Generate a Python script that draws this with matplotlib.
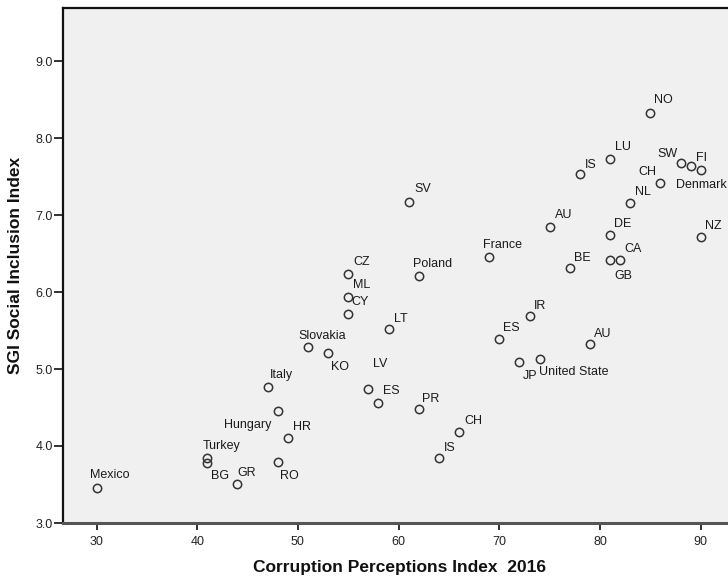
import matplotlib
matplotlib.use("Agg")
import matplotlib.pyplot as plt

plt.rcParams['font.family'] = ['Liberation Sans', 'DejaVu Sans']

# ---- data ----
countries = ["Mexico", "Turkey", "BG", "GR", "RO", "HR", "Hungary", "Italy",
             "Slovakia", "KO", "CZ", "ML", "CY", "LT", "LV", "ES", "PR", "CH",
             "IS", "SV", "Poland", "France", "ES", "IR", "JP", "United State",
             "AU", "AU", "BE", "IS", "LU", "DE", "GB", "CA", "NL", "NO", "CH",
             "SW", "Denmark", "FI", "NZ"]
cpi_2016 = [30, 41, 41, 44, 48, 49, 48, 47,
            51, 53, 55, 55, 55, 59, 57, 58, 62, 66,
            64, 61, 62, 69, 70, 73, 72, 74,
            79, 75, 77, 78, 81, 81, 81, 82, 83, 85, 86,
            88, 89, 90, 90]
sgi_social = [3.46, 3.85, 3.78, 3.51, 3.79, 4.10, 4.46, 4.77,
              5.28, 5.21, 6.24, 5.93, 5.72, 5.52, 4.74, 4.56, 4.48, 4.18,
              3.84, 7.17, 6.21, 6.45, 5.39, 5.69, 5.09, 5.13,
              5.32, 6.84, 6.31, 7.53, 7.73, 6.74, 6.42, 6.42, 7.16, 8.33, 7.42,
              7.67, 7.64, 7.58, 6.71]
x_ticks = [30, 40, 50, 60, 70, 80, 90]
y_ticks = [3.0, 4.0, 5.0, 6.0, 7.0, 8.0, 9.0]

# label placement (pixel offsets from the marker: right, down) and alignment
label_offsets = {
    0: (13, -14), 1: (14, -13), 2: (13, 12), 3: (9, -12), 4: (12, 12),
    5: (14, -13), 6: (-6, 13), 7: (14, -13), 8: (14, -13), 9: (12, 13),
    10: (13, -13), 11: (13, -14), 12: (12, -13), 13: (12, -11), 14: (12, -27),
    15: (13, -13), 16: (12, -12), 17: (14, -13), 18: (11, -12), 19: (14, -14),
    20: (14, -13), 21: (13, -14), 22: (12, -12), 23: (11, -11), 24: (11, 12),
    25: (-1, 12), 26: (13, -12), 27: (14, -14), 28: (13, -12), 29: (11, -11),
    30: (13, -13), 31: (13, -13), 32: (13, 15), 33: (13, -12), 34: (13, -12),
    35: (13, -14), 36: (-13, -12), 37: (-13, -11), 38: (-15, 18), 39: (1, -14),
    40: (13, -13),
}
label_ha = {6: 'right', 25: 'left', 38: 'left'}

# ---- figure ----
W, H = 728, 580
fig = plt.figure(figsize=(W / 100, H / 100), dpi=100)
fig.patch.set_facecolor('white')

ax_left, ax_right, ax_top, ax_bottom = 63, 735, 8, 523
ax = fig.add_axes([ax_left / W, 1 - ax_bottom / H,
                   (ax_right - ax_left) / W, (ax_bottom - ax_top) / H])
ax.set_facecolor('#f0f0f0')

px_per_x = 10.07
x0_px = 96.5
ax.set_xlim(30 - (x0_px - ax_left) / px_per_x, 30 + (ax_right - x0_px) / px_per_x)
ax.set_ylim(3.0, 3.0 + (ax_bottom - ax_top) / 77.0)

ax.plot(cpi_2016, sgi_social, linestyle='none', marker='o', markersize=6.0,
        markerfacecolor='none', markeredgecolor='#333333', markeredgewidth=1.1,
        clip_on=False, zorder=3)

for i, (name, xv, yv) in enumerate(zip(countries, cpi_2016, sgi_social)):
    dx, dy = label_offsets[i]
    ha = label_ha.get(i, 'center')
    ax.annotate(name, (xv, yv), xytext=(dx, -dy - 4.5), textcoords='offset pixels',
                ha=ha, va='baseline', fontsize=9, color='#1a1a1a', zorder=4)

ax.set_xticks(x_ticks)
ax.set_xticklabels([str(t) for t in x_ticks])
ax.set_yticks(y_ticks)
ax.set_yticklabels([f"{t:.1f}" for t in y_ticks])

ax.tick_params(axis='x', direction='out', length=5, width=1.3, pad=4.5,
               labelsize=9, colors='#222222')
ax.tick_params(axis='y', direction='out', length=6.5, width=1.3, pad=0.8,
               labelsize=9, colors='#222222')

for side in ['top', 'left']:
    ax.spines[side].set_color('#111111')
    ax.spines[side].set_linewidth(1.6)
ax.spines['bottom'].set_color('#555555')
ax.spines['bottom'].set_linewidth(2.2)
ax.spines['right'].set_visible(False)

ax.set_xlabel("Corruption Perceptions Index  2016", fontsize=12.5,
              fontweight='bold', color='#111111')
ax.xaxis.set_label_coords((399.5 - ax_left) / (ax_right - ax_left),
                          (ax_bottom - 560) / (ax_bottom - ax_top))
ax.set_ylabel("SGI Social Inclusion Index", fontsize=12.5,
              fontweight='bold', color='#111111')
ax.yaxis.set_label_coords((23 - ax_left) / (ax_right - ax_left),
                          (ax_bottom - 265.5) / (ax_bottom - ax_top))

fig.savefig("out.png", dpi=100, facecolor='white')
